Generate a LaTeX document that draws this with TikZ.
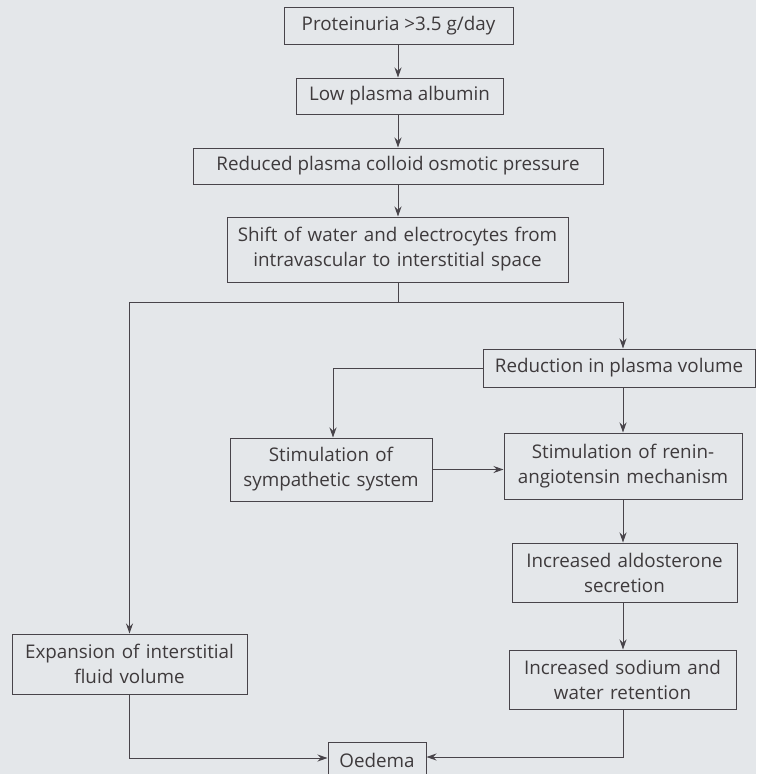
\documentclass[tikz,border=0pt]{standalone}
\usepackage{fontspec}
\setmainfont{Open Sans}
\usetikzlibrary{arrows.meta}
\definecolor{bg}{HTML}{E4E7EA}
\definecolor{ink}{HTML}{3E3A3C}
\definecolor{linec}{HTML}{48444A}
\begin{document}
\begin{tikzpicture}[x=1pt,y=-1pt,
  box/.style={draw=linec, line width=1pt, fill=bg, text=ink, inner sep=0pt, align=center,
    font=\fontsize{18.8}{25}\selectfont},
  conn/.style={draw=linec, line width=0.9pt},
  arr/.style={conn, -{Stealth[length=10pt,width=7pt]}}]
\fill[bg] (0,0) rectangle (756,774);
\useasboundingbox (0,0) rectangle (756,774);
\node[box, minimum width=229pt, minimum height=37pt] (p) at (398.5,25.5) {Proteinuria >3.5 g/day};
\node[box, minimum width=207pt, minimum height=36pt] (a) at (399.5,96) {Low plasma albumin};
\node[box, minimum width=410pt, minimum height=36pt] (r) at (398,166) {Reduced plasma colloid osmotic pressure};
\node[box, minimum width=341pt, minimum height=65pt, text width=338pt] (s) at (397.5,249.5) {Shift of water and electrocytes from\\intravascular to interstitial space};
\node[box, minimum width=272pt, minimum height=38pt] (red) at (619,368) {Reduction in plasma volume};
\node[box, minimum width=202pt, minimum height=63pt, text width=199pt] (sym) at (331,469.5) {Stimulation of\\sympathetic system};
\node[box, minimum width=238pt, minimum height=66pt, text width=235pt] (ren) at (623,466) {Stimulation of renin-\\angiotensin mechanism};
\node[box, minimum width=225pt, minimum height=59pt, text width=222pt] (ald) at (624.5,572.5) {Increased aldosterone\\secretion};
\node[box, minimum width=227pt, minimum height=59pt, text width=224pt] (sod) at (622.5,679.5) {Increased sodium and\\water retention};
\node[box, minimum width=235pt, minimum height=60pt, text width=232pt] (exp) at (129.5,664) {Expansion of interstitial\\fluid volume};
\node[box, minimum width=98pt, minimum height=36pt] (oed) at (377,760) {Oedema};
\coordinate (split) at (398,302);
\draw[arr] (p.south -| 398,0) -- (a.north -| 398,0);
\draw[arr] (a.south -| 398,0) -- (r.north -| 398,0);
\draw[arr] (r.south -| 398,0) -- (s.north -| 398,0);
\draw[conn] (s.south -| split) -- (split);
\draw[arr] (split) -| (exp.north);
\draw[arr] (split) -| (red.north -| 623,0);
\draw[arr] (red.west) -| (sym.north -| 333,0);
\draw[arr] (red.south -| 623,0) -- (ren.north -| 623,0);
\draw[arr] (sym.east) -- (ren.west |- sym.east);
\draw[arr] (ren.south -| 623,0) -- (ald.north -| 623,0);
\draw[arr] (ald.south -| 623,0) -- (sod.north -| 623,0);
\draw[arr] (exp.south) |- (oed.west |- 0,758);
\draw[arr] (sod.south -| 623,0) |- (oed.east |- 0,757);
\end{tikzpicture}
\end{document}
